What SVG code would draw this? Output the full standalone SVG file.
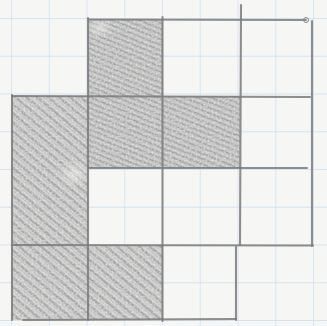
<svg xmlns="http://www.w3.org/2000/svg" width="327" height="326" viewBox="0 0 327 326">
<defs>
<pattern id="grid" patternUnits="userSpaceOnUse" x="11" y="18" width="37.75" height="37.75">
<path d="M0 0V37.75M0 0H37.75" fill="none" stroke="#c9def0" stroke-width="1.3"/>
</pattern>
<pattern id="hatchA" patternUnits="userSpaceOnUse" width="9" height="5" patternTransform="rotate(22)">
<line x1="0" y1="1.5" x2="9" y2="1.5" stroke="#808080" stroke-width="2" stroke-opacity="0.6"/>
<line x1="0" y1="3.8" x2="9" y2="3.8" stroke="#9a9a9a" stroke-width="0.8" stroke-opacity="0.4"/>
</pattern>
<pattern id="hatchB" patternUnits="userSpaceOnUse" width="9" height="7" patternTransform="rotate(40)">
<line x1="0" y1="1.5" x2="9" y2="1.5" stroke="#808080" stroke-width="2.4" stroke-opacity="0.55"/>
<line x1="0" y1="4.5" x2="9" y2="4.5" stroke="#a0a0a0" stroke-width="1" stroke-opacity="0.4"/>
</pattern>
<filter id="grain" x="0" y="0" width="1" height="1">
<feTurbulence type="fractalNoise" baseFrequency="0.5" numOctaves="2" seed="7" result="n"/>
<feColorMatrix in="n" type="matrix" values="0 0 0 0 1  0 0 0 0 1  0 0 0 0 1  0 0 0 1.2 -0.5" result="w"/>
<feComposite in="w" in2="SourceGraphic" operator="in" result="wm"/>
<feMerge><feMergeNode in="SourceGraphic"/><feMergeNode in="wm"/></feMerge>
</filter>
<radialGradient id="light" cx="0.5" cy="0.5" r="0.5">
<stop offset="0" stop-color="#f2f2f0" stop-opacity="0.55"/>
<stop offset="1" stop-color="#f2f2f0" stop-opacity="0"/>
</radialGradient>
</defs>
<style>
.shade{fill:#bdbdbd;fill-opacity:0.7}
.pen{fill:none;stroke:#7a7a7a;stroke-width:2.1;stroke-linecap:round;stroke-opacity:0.85}
</style>
<rect width="327" height="326" fill="#f6f6f4"/>
<rect width="327" height="326" fill="url(#grid)"/>

<g id="shading" filter="url(#grain)">
<g id="cell-top">
<rect class="shade" x="88" y="19" width="75" height="77"/>
<rect x="88" y="19" width="75" height="77" fill="url(#hatchA)"/>
<ellipse cx="100" cy="28" rx="14" ry="10" fill="url(#light)"/>
</g>
<g id="cell-left-tall">
<rect class="shade" x="12" y="96" width="76" height="149"/>
<rect x="12" y="96" width="76" height="149" fill="url(#hatchB)"/>
<ellipse cx="74" cy="174" rx="16" ry="14" fill="url(#light)"/>
</g>
<g id="cell-mid">
<rect class="shade" x="88" y="96" width="75" height="72"/>
<rect x="88" y="96" width="75" height="72" fill="url(#hatchA)"/>
</g>
<g id="cell-right">
<rect class="shade" x="163" y="96" width="77" height="72" fill-opacity="0.55"/>
<rect x="163" y="96" width="77" height="72" fill="url(#hatchA)"/>
</g>
<g id="cell-bottom-left">
<rect class="shade" x="12" y="245" width="76" height="75" fill-opacity="0.5"/>
<rect x="12" y="245" width="76" height="75" fill="url(#hatchB)"/>
</g>
<g id="cell-bottom-mid">
<rect class="shade" x="88" y="245" width="75" height="75" fill-opacity="0.5"/>
<rect x="88" y="245" width="75" height="75" fill="url(#hatchB)"/>
</g>
</g>

<g id="lines">
<path class="pen" d="M89 19.5 L306 20"/>
<circle cx="306" cy="20" r="2.5" fill="none" stroke="#888" stroke-width="1"/>
<path class="pen" d="M12 96 L310 97"/>
<path class="pen" d="M88 168 L307 168"/>
<path class="pen" d="M12 245 L313 245.5"/>
<path class="pen" d="M23 320 L236 319"/>
<path class="pen" d="M12 95 L12 320"/>
<path class="pen" d="M88 18 L88 320"/>
<path class="pen" d="M162.5 17 L162.5 321"/>
<path class="pen" d="M241 5 L240 245"/>
<path class="pen" d="M236 247 L236 320"/>
<path class="pen" d="M312 21 L312 246"/>
</g>
</svg>
